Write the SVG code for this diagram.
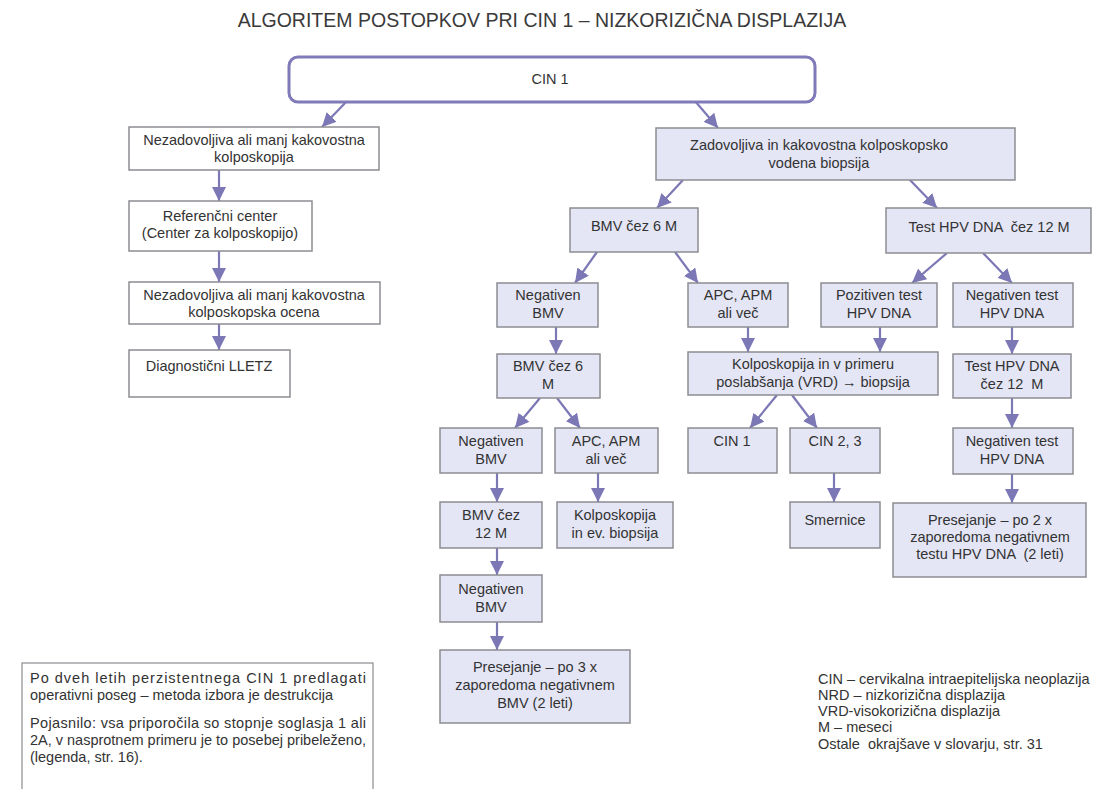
<svg xmlns="http://www.w3.org/2000/svg" width="1096" height="789" viewBox="0 0 1096 789">
<style>
text{font-family:"Liberation Sans",Arial,sans-serif;fill:#333;}
.t{font-size:14.5px;text-anchor:middle;white-space:pre;}
.title{font-size:19.5px;text-anchor:middle;fill:#3a3a3a;}
.b{fill:#e4e6f6;stroke:#8c8c92;stroke-width:1.5;}
.w{fill:#fff;stroke:#8c8c92;stroke-width:1.5;}
.note{font-size:14.5px;white-space:pre;}
.c line{stroke:#7c78b6;stroke-width:2.2;marker-end:url(#ah);}
</style>
<defs>
<marker id="ah" markerUnits="userSpaceOnUse" markerWidth="16" markerHeight="14" refX="14" refY="7" orient="auto">
<path d="M0,0 L14,7 L0,14 Z" fill="#7c78b6"/>
</marker>
</defs>
<rect width="1096" height="789" fill="#fff"/>
<text class="title" x="542" y="27">ALGORITEM POSTOPKOV PRI CIN 1 – NIZKORIZIČNA DISPLAZIJA</text>

<g class="c">
<line x1="347" y1="101" x2="322" y2="127"/>
<line x1="695" y1="101" x2="718" y2="128"/>
<line x1="219" y1="170" x2="219" y2="201"/>
<line x1="219" y1="251" x2="219" y2="282"/>
<line x1="219" y1="324" x2="219" y2="350"/>
<line x1="683" y1="180" x2="657" y2="208"/>
<line x1="910" y1="180" x2="937" y2="208"/>
<line x1="597" y1="252" x2="575" y2="283"/>
<line x1="675" y1="252" x2="698" y2="283"/>
<line x1="947" y1="253" x2="912" y2="283"/>
<line x1="983" y1="253" x2="1012" y2="283"/>
<line x1="556" y1="327" x2="556" y2="354"/>
<line x1="748" y1="327" x2="748" y2="352"/>
<line x1="880" y1="327" x2="880" y2="352"/>
<line x1="1012" y1="327" x2="1012" y2="354"/>
<line x1="540" y1="398" x2="515" y2="428"/>
<line x1="557" y1="398" x2="580" y2="428"/>
<line x1="777" y1="395" x2="750" y2="428"/>
<line x1="792" y1="395" x2="817" y2="428"/>
<line x1="1012" y1="398" x2="1012" y2="428"/>
<line x1="497" y1="473" x2="497" y2="502"/>
<line x1="598" y1="473" x2="598" y2="502"/>
<line x1="834" y1="473" x2="834" y2="502"/>
<line x1="1012" y1="474" x2="1012" y2="503"/>
<line x1="497" y1="548" x2="497" y2="575"/>
<line x1="497" y1="622" x2="497" y2="650"/>
</g>

<g id="cin1">
<rect x="289" y="57" width="526" height="45" rx="9" fill="#fff" stroke="#7f7ab8" stroke-width="3"/>
<text class="t" x="550" y="84">CIN 1</text>
</g>

<g id="nezadovoljiva1">
<rect class="w" x="129" y="127" width="250" height="43"/>
<text class="t" x="254" y="145">Nezadovoljiva ali manj kakovostna</text>
<text class="t" x="254" y="162">kolposkopija</text>
</g>
<g id="referencni">
<rect class="w" x="129" y="201" width="183" height="50"/>
<text class="t" x="220" y="221">Referenčni center</text>
<text class="t" x="220" y="238">(Center za kolposkopijo)</text>
</g>
<g id="nezadovoljiva2">
<rect class="w" x="129" y="282" width="251" height="42"/>
<text class="t" x="254" y="300">Nezadovoljiva ali manj kakovostna</text>
<text class="t" x="254" y="317">kolposkopska ocena</text>
</g>
<g id="lletz">
<rect class="w" x="129" y="350" width="161" height="47"/>
<text class="t" x="209" y="371">Diagnostični LLETZ</text>
</g>

<g id="zadovoljiva">
<rect class="b" x="656" y="128" width="359" height="52"/>
<text class="t" x="819" y="150">Zadovoljiva in kakovostna kolposkopsko</text>
<text class="t" x="819" y="168">vodena biopsija</text>
</g>
<g id="bmv6">
<rect class="b" x="570" y="208" width="128" height="44"/>
<text class="t" x="634" y="231">BMV čez 6 M</text>
</g>
<g id="hpv12">
<rect class="b" x="886" y="208" width="205" height="45"/>
<text class="t" x="989" y="232">Test HPV DNA  čez 12 M</text>
</g>

<g id="negbmv1">
<rect class="b" x="497" y="283" width="101" height="44"/>
<text class="t" x="548" y="300">Negativen</text>
<text class="t" x="548" y="318">BMV</text>
</g>
<g id="apc1">
<rect class="b" x="688" y="283" width="100" height="44"/>
<text class="t" x="738" y="300">APC, APM</text>
<text class="t" x="738" y="318">ali več</text>
</g>
<g id="pozhpv">
<rect class="b" x="821" y="283" width="116" height="44"/>
<text class="t" x="879" y="300">Pozitiven test</text>
<text class="t" x="879" y="318">HPV DNA</text>
</g>
<g id="neghpv1">
<rect class="b" x="953" y="283" width="120" height="44"/>
<text class="t" x="1012" y="300">Negativen test</text>
<text class="t" x="1012" y="318">HPV DNA</text>
</g>

<g id="bmv6b">
<rect class="b" x="497" y="354" width="103" height="44"/>
<text class="t" x="548" y="371">BMV čez 6</text>
<text class="t" x="548" y="389">M</text>
</g>
<g id="kolpo">
<rect class="b" x="688" y="352" width="250" height="43"/>
<text class="t" x="813" y="369">Kolposkopija in v primeru</text>
<text class="t" x="813" y="387">poslabšanja (VRD) → biopsija</text>
</g>
<g id="hpv12b">
<rect class="b" x="953" y="354" width="118" height="44"/>
<text class="t" x="1012" y="371">Test HPV DNA</text>
<text class="t" x="1012" y="389">čez 12  M</text>
</g>

<g id="negbmv2">
<rect class="b" x="440" y="428" width="102" height="45"/>
<text class="t" x="491" y="446">Negativen</text>
<text class="t" x="491" y="464">BMV</text>
</g>
<g id="apc2">
<rect class="b" x="555" y="428" width="103" height="45"/>
<text class="t" x="606" y="446">APC, APM</text>
<text class="t" x="606" y="464">ali več</text>
</g>
<g id="cin1b">
<rect class="b" x="688" y="428" width="89" height="45"/>
<text class="t" x="732" y="446">CIN 1</text>
</g>
<g id="cin23">
<rect class="b" x="790" y="428" width="90" height="45"/>
<text class="t" x="835" y="446">CIN 2, 3</text>
</g>
<g id="neghpv2">
<rect class="b" x="953" y="428" width="120" height="46"/>
<text class="t" x="1012" y="446">Negativen test</text>
<text class="t" x="1012" y="464">HPV DNA</text>
</g>

<g id="bmv12">
<rect class="b" x="440" y="502" width="102" height="46"/>
<text class="t" x="491" y="520">BMV čez</text>
<text class="t" x="491" y="538">12 M</text>
</g>
<g id="kolpobiop">
<rect class="b" x="557" y="502" width="116" height="46"/>
<text class="t" x="615" y="520">Kolposkopija</text>
<text class="t" x="615" y="538">in ev. biopsija</text>
</g>
<g id="smernice">
<rect class="b" x="790" y="502" width="90" height="46"/>
<text class="t" x="835" y="525">Smernice</text>
</g>
<g id="presejanje2">
<rect class="b" x="893" y="503" width="193" height="74"/>
<text class="t" x="990" y="525">Presejanje – po 2 x</text>
<text class="t" x="990" y="542">zaporedoma negativnem</text>
<text class="t" x="990" y="559">testu HPV DNA  (2 leti)</text>
</g>

<g id="negbmv3">
<rect class="b" x="440" y="575" width="102" height="47"/>
<text class="t" x="491" y="594">Negativen</text>
<text class="t" x="491" y="612">BMV</text>
</g>
<g id="presejanje3">
<rect class="b" x="440" y="650" width="190" height="73"/>
<text class="t" x="535" y="672">Presejanje – po 3 x</text>
<text class="t" x="535" y="690">zaporedoma negativnem</text>
<text class="t" x="535" y="708">BMV (2 leti)</text>
</g>

<g id="opomba">
<rect x="22" y="663" width="351" height="140" fill="#fff" stroke="#8c8c92" stroke-width="1.2"/>
<text class="note" x="30" y="683" textLength="336" lengthAdjust="spacing">Po dveh letih perzistentnega CIN 1 predlagati</text>
<text class="note" x="30" y="700">operativni poseg – metoda izbora je destrukcija</text>
<text class="note" x="30" y="728" textLength="336" lengthAdjust="spacing">Pojasnilo: vsa priporočila so stopnje soglasja 1 ali</text>
<text class="note" x="30" y="745" textLength="336" lengthAdjust="spacing">2A, v nasprotnem primeru je to posebej pribeleženo,</text>
<text class="note" x="30" y="762">(legenda, str. 16).</text>
</g>

<g id="legenda">
<text class="note" x="818" y="684">CIN – cervikalna intraepitelijska neoplazija</text>
<text class="note" x="818" y="700">NRD – nizkorizična displazija</text>
<text class="note" x="818" y="716">VRD-visokorizična displazija</text>
<text class="note" x="818" y="732">M – meseci</text>
<text class="note" x="818" y="749">Ostale  okrajšave v slovarju, str. 31</text>
</g>
</svg>
